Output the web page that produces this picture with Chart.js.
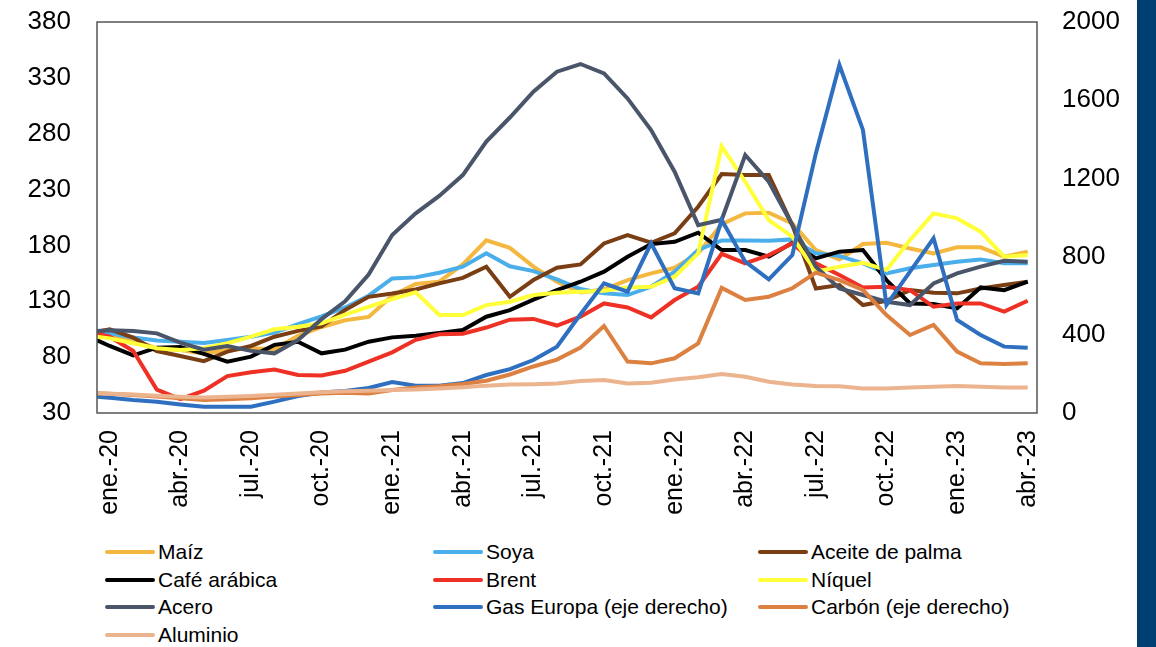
<!DOCTYPE html>
<html>
<head>
<meta charset="utf-8">
<script src="https://cdn.jsdelivr.net/npm/chart.js@4.4.1/dist/chart.umd.min.js"></script>
<style>
html,body{margin:0;padding:0;background:#fff;width:1156px;height:647px;overflow:hidden;font-family:"Liberation Sans",Arial,sans-serif;}
#wrap{position:absolute;left:0;top:0;width:1136px;height:530px;}
#strip{position:absolute;left:1137px;top:0;width:19px;height:647px;background:#003f72;}
.item{position:absolute;display:flex;align-items:center;font-size:21px;line-height:23px;color:#000;white-space:nowrap;}
.sw{width:50px;height:4px;border-radius:2px;margin-right:3px;}
</style>
</head>
<body>
<div id="wrap"><canvas id="c" width="1136" height="530"></canvas></div>
<div id="legend"></div>
<div id="strip"></div>
<script>
const months = ['dic.-19','ene.-20','feb.-20','mar.-20','abr.-20','may.-20','jun.-20','jul.-20','ago.-20','sep.-20','oct.-20','nov.-20','dic.-20',
 'ene.-21','feb.-21','mar.-21','abr.-21','may.-21','jun.-21','jul.-21','ago.-21','sep.-21','oct.-21','nov.-21','dic.-21',
 'ene.-22','feb.-22','mar.-22','abr.-22','may.-22','jun.-22','jul.-22','ago.-22','sep.-22','oct.-22','nov.-22','dic.-22',
 'ene.-23','feb.-23','mar.-23','abr.-23'];
const tickLabels = ['ene.-20','abr.-20','jul.-20','oct.-20','ene.-21','abr.-21','jul.-21','oct.-21','ene.-22','abr.-22','jul.-22','oct.-22','ene.-23','abr.-23'];
const seriesNames = ['Maíz','Soya','Aceite de palma','Café arábica','Brent','Níquel','Acero','Gas Europa (eje derecho)','Carbón (eje derecho)','Aluminio'];

const maiz = [102,99.7,95.3,87.8,86.3,83.3,86.3,88,87,99,107,113,116,135,145.5,147.6,163,184.5,177.8,161,147.5,138,140.6,149,155,160,173,199,208.7,209.3,199.7,175.9,167.5,181.2,182.4,177.3,172.9,178.3,178.3,169.9,174.4];
const soya = [104,101.3,97.5,95,93.8,92.7,95.3,98.3,102,109.5,116.5,124.5,135,150.5,151.4,155.5,161,173,161.3,157,149.7,141,137.1,135.6,143,156.5,176,184.5,184.5,184.2,185.4,172.9,170.5,164,155,159.5,162.4,165.4,167.5,164,164];
const palma = [101,104.9,97.5,85.5,81,76.4,85,90,98.3,103.5,107.5,122.2,134,137,140.5,146,151,161,134,149,160,163,181.8,189.3,182.4,190.8,214.6,243.9,243,243,198.2,141.5,144.5,126.6,130.5,140,137.7,137.1,141.5,144.5,147.5];
const cafe = [99.6,90,81.5,88.5,89,83,76,80.5,91,93.8,83.4,86.7,93.8,97.7,99.2,101.6,104.3,116.2,122.1,131.5,140,147.5,156.5,169.9,181.2,183.3,191.4,175.9,175.9,169.9,182.4,168.4,174.4,175.9,149,128.1,127.5,123.6,142.4,140,147.5];
const brent = [103,98.3,85.5,51,42.5,50,63,66.5,69,64,63.5,67.8,76,84.3,95.5,100.5,101,106.5,113.5,114.2,108.3,116.2,128.1,124.5,115.6,131.1,143,172.5,164,171.4,181.8,164,153.5,142.4,143,140,125.1,128.1,128.1,120.7,130.5];
const niquel = [99.5,96.8,92.4,88,86.4,87.9,92.4,98.3,104.9,107.3,110.3,118,125,132,138,117.7,117.7,126.6,129.6,135.6,137.7,138.6,139.5,142.4,143,152,172.9,268.7,237,202.7,187.8,156.5,161,164.5,158,184.8,208.7,204.2,192.3,169.9,171.4];
const acero = [103,104,103.4,101.3,93,86.7,90,85.6,83.4,95.3,114,130,154,189.4,208.7,224.3,243,272.9,294.5,317.7,335.5,342.4,334,311.6,283.3,246,198.2,203,260.9,237,198.2,161,141.5,135.6,129.6,126.6,146,155,161,166.3,165.4];
const gasEuropa = [88,78.5,66.5,58,44,32.5,32.5,32.5,58,87,105,112,128,158,140,140,153,194.4,224,271,339,505,663,620.7,868,637.7,612,987,774,684,808,1328,1780,1448,552.5,723,893.5,476,399,339.5,334];
const carbon = [104,98,92,85,75,66.5,70,75,85,92,100,104,100,118,131,137,148,165,197,238,273,335,445,263,254,280,356,640,578,595,638,718,680,629,501,399,450,314,254,251,254];
const aluminio = [48,47.3,46.5,45.5,44.5,43.8,44.5,45.3,46.3,47.5,48.5,49.5,50,50.5,51,52,53,54.5,55.5,55.8,56.5,58.6,59.5,56.5,57.1,60,62,64.9,62.5,58,55.6,54.1,54,52,52,52.9,53.5,54.1,53.5,52.9,52.9];

const leftTicks = [30,80,130,180,230,280,330,380];
const rightTicks = [0,400,800,1200,1600,2000];

const seriesValues = [maiz,soya,palma,cafe,brent,niquel,acero,gasEuropa,carbon,aluminio];
const seriesColors = ['#F4B73F','#4AAEEA','#7A3E14','#000000','#EE3124','#FFFF3A','#4A5569','#2F6FC0','#DC8141','#EBB48E'];
const seriesAxis = ['y','y','y','y','y','y','y','y1','y1','y'];

const n = seriesValues.length;
const datasets = seriesValues.map((vals, k) => ({
  label: seriesNames[k],
  data: vals.map((v, i) => ({x: i, y: v})),
  borderColor: seriesColors[k],
  backgroundColor: seriesColors[k],
  borderWidth: 4,
  pointRadius: 0,
  tension: 0,
  fill: false,
  yAxisID: seriesAxis[k],
  order: n - k,
  clip: 0
}));

const tickIdx = tickLabels.map(t => months.indexOf(t));
const fam = '"Liberation Sans", Arial, sans-serif';

const boxPlugin = {
  id: 'box',
  afterDraw(chart) {
    const a = chart.chartArea, ctx = chart.ctx;
    ctx.save();
    ctx.strokeStyle = '#555555';
    ctx.lineWidth = 1.5;
    ctx.strokeRect(a.left, a.top, a.right - a.left, a.bottom - a.top);
    ctx.restore();
  }
};

function fixVertical(width) {
  return function (s) { s.width = width; s.paddingTop = 0; s.paddingBottom = 0; };
}

new Chart(document.getElementById('c'), {
  type: 'line',
  data: {datasets},
  plugins: [boxPlugin],
  options: {
    responsive: false,
    animation: false,
    layout: {padding: {top: 22, left: 0, right: 0, bottom: 0}},
    plugins: {legend: {display: false}, tooltip: {enabled: false}},
    scales: {
      x: {
        type: 'linear',
        min: 0.46,
        max: 40.395,
        grid: {display: false, drawTicks: false},
        border: {display: false},
        afterBuildTicks(s) { s.ticks = tickIdx.map(v => ({value: v})); },
        afterFit(s) { s.height = 117; s.paddingLeft = 0; s.paddingRight = 0; },
        ticks: {
          autoSkip: false,
          minRotation: 90,
          maxRotation: 90,
          padding: 17,
          color: '#000',
          font: {family: fam, size: 25},
          callback: (v) => months[v]
        }
      },
      y: {
        position: 'left',
        min: 30,
        max: 380,
        grid: {display: false, drawTicks: false},
        border: {display: false},
        afterBuildTicks(s) { s.ticks = leftTicks.map(v => ({value: v})); },
        afterFit: fixVertical(97),
        ticks: {padding: 26, color: '#000', font: {family: fam, size: 26}, callback: (v) => String(v)}
      },
      y1: {
        position: 'right',
        min: 0,
        max: 2000,
        grid: {display: false, drawTicks: false},
        border: {display: false},
        afterBuildTicks(s) { s.ticks = rightTicks.map(v => ({value: v})); },
        afterFit: fixVertical(99),
        ticks: {padding: 25, color: '#000', font: {family: fam, size: 26}, callback: (v) => String(v)}
      }
    }
  }
});

// HTML legend, 3 columns
const legendCols = [105, 433, 758];
const legendRows = [552, 580, 607, 635];
const lg = document.getElementById('legend');
seriesNames.forEach((name, k) => {
  const d = document.createElement('div');
  d.className = 'item';
  d.style.left = legendCols[k % 3] + 'px';
  d.style.top = (legendRows[Math.floor(k / 3)] - 12) + 'px';
  const sw = document.createElement('span');
  sw.className = 'sw';
  sw.style.background = seriesColors[k];
  const tx = document.createElement('span');
  tx.textContent = name;
  d.appendChild(sw);
  d.appendChild(tx);
  lg.appendChild(d);
});
</script>
</body>
</html>
